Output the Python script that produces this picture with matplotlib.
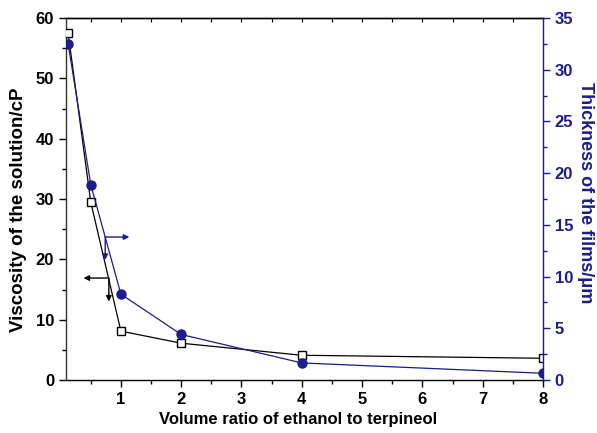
import matplotlib
matplotlib.use("Agg")
import matplotlib.pyplot as plt
from matplotlib.ticker import MultipleLocator

plt.rcParams['font.family'] = ['Liberation Sans', 'DejaVu Sans']
plt.rcParams['font.weight'] = 'bold'

ratio = [0.125, 0.5, 1, 2, 4, 8]
viscosity = [57.5, 29.5, 8.1, 6.1, 4.1, 3.6]
thickness = [32.5, 18.9, 8.3, 4.4, 1.65, 0.65]

navy = '#1c1c8a'

fig = plt.figure(figsize=(5.97, 4.33), dpi=100)
ax = fig.add_axes([0.1106, 0.1224, 0.7989, 0.836])
ax2 = ax.twinx()

ax.plot(ratio, viscosity, color='black', lw=0.9, marker='s', ms=5.5,
        mfc='white', mec='black', mew=1.0, zorder=3)
ax2.plot(ratio, thickness, color=navy, lw=0.9, marker='o', ms=6.5,
         mfc=navy, mec=navy, zorder=3)

ax.set_xlim(0.09, 8.0)
ax.set_ylim(0, 60)
ax2.set_ylim(0, 35)

ax.xaxis.set_major_locator(MultipleLocator(1))
ax.xaxis.set_minor_locator(MultipleLocator(0.5))
ax.yaxis.set_major_locator(MultipleLocator(10))
ax.yaxis.set_minor_locator(MultipleLocator(5))
ax2.yaxis.set_major_locator(MultipleLocator(5))
ax2.yaxis.set_minor_locator(MultipleLocator(2.5))

ax.tick_params(axis='both', which='major', direction='out', length=5, width=1,
               labelsize=12, colors='black')
ax.tick_params(axis='both', which='minor', direction='out', length=3, width=1)
ax2.tick_params(axis='y', which='major', direction='out', length=5, width=1,
                labelsize=12, colors=navy)
ax2.tick_params(axis='y', which='minor', direction='out', length=3, width=1,
                colors=navy)
for lab in ax.get_xticklabels() + ax.get_yticklabels() + ax2.get_yticklabels():
    lab.set_fontweight('bold')

top = ax.secondary_xaxis('top')
top.xaxis.set_major_locator(MultipleLocator(0.5))
top.tick_params(direction='in', length=3, labeltop=False)
top.spines['top'].set_linewidth(1)

for s in ['left', 'bottom', 'top']:
    ax.spines[s].set_linewidth(1)
ax.spines['left'].set_color('#333333')
ax.spines['right'].set_visible(False)
ax2.spines['right'].set_color(navy)
ax2.spines['right'].set_linewidth(1)
for s in ['left', 'bottom', 'top']:
    ax2.spines[s].set_visible(False)

ax.set_xlabel('Volume ratio of ethanol to terpineol', fontsize=12,
              fontweight='bold', va='center')
ax.xaxis.set_label_coords(0.487, -0.11)
ax.set_ylabel('Viscosity of the solution/cP', fontsize=13.5, fontweight='bold',
              va='center')
ax.yaxis.set_label_coords(-0.1, 0.47)
ax2.set_ylabel('Thickness of the films/\u03bcm', fontsize=13, fontweight='bold',
               color=navy, rotation=270, va='center')
ax2.yaxis.set_label_coords(1.09, 0.517)

# annotation arrows
arr = dict(arrowstyle='-|>', color='black', lw=1, mutation_scale=8,
           shrinkA=0, shrinkB=0)
ax.annotate('', xy=(0.38, 16.9), xytext=(0.8, 16.9), arrowprops=arr)
ax.annotate('', xy=(0.8, 13.0), xytext=(0.8, 16.9), arrowprops=arr)
arrb = dict(arr, color=navy)
ax.annotate('', xy=(1.14, 23.7), xytext=(0.74, 23.7), arrowprops=arrb)
ax.annotate('', xy=(0.74, 19.9), xytext=(0.74, 23.7), arrowprops=arrb)

fig.savefig('out.png', dpi=100)
